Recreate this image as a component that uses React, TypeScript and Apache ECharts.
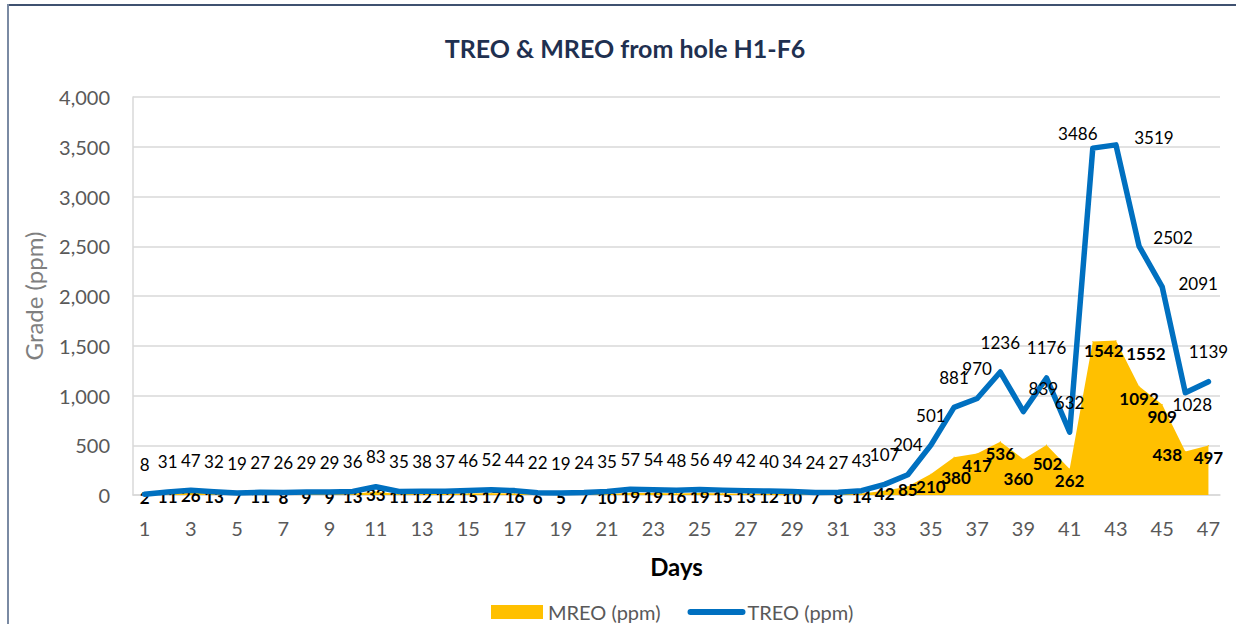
import React, { useEffect, useRef } from "react";
import * as echarts from "echarts";

const days = Array.from({ length: 47 }, (_, i) => String(i + 1));
const treo = [8, 31, 47, 32, 19, 27, 26, 29, 29, 36, 83, 35, 38, 37, 46, 52, 44, 22, 19, 24, 35, 57, 54, 48, 56, 49, 42, 40, 34, 24, 27, 43, 107, 204, 501, 881, 970, 1236, 839, 1176, 632, 3486, 3519, 2502, 2091, 1028, 1139];
const mreo = [2, 11, 26, 13, 7, 11, 8, 9, 9, 13, 33, 11, 12, 12, 15, 17, 16, 6, 5, 7, 10, 19, 19, 16, 19, 15, 13, 12, 10, 7, 8, 14, 42, 85, 210, 380, 417, 536, 360, 502, 262, 1542, 1552, 1092, 909, 438, 497];
const yTicks = [0, 500, 1000, 1500, 2000, 2500, 3000, 3500, 4000];

// label offset overrides (by day index), styling only
const treoOffsets: Record<number, number[]> = {
  38: [20, -23],
  41: [-15, -15],
  42: [38, -7],
  43: [34, -9],
  44: [36, -3],
  45: [7, 12],
};
const mreoOffsets: Record<number, number[]> = {
  35: [2, 20],
  38: [-5, 19],
  39: [1, 18],
  41: [11, 9],
  42: [30, 13],
  45: [-18, 3],
};

const FONT = "Lato, 'Open Sans', sans-serif";

export default function App() {
  const ref = useRef<HTMLDivElement>(null);
  useEffect(() => {
    const chart = echarts.init(ref.current!, null, { renderer: "svg" });
    const treoData = treo.map((v, i) => ({
      value: v,
      label: { offset: treoOffsets[i] || [0, -30] },
    }));
    const mreoData = mreo.map((v, i) => ({
      value: v,
      label: { offset: mreoOffsets[i] || (v < 100 ? [0, 3] : [0, 12]) },
    }));
    chart.setOption({
      animation: false,
      textStyle: { fontFamily: FONT },
      title: {
        text: "TREO & MREO from hole H1-F6",
        left: 620,
        textAlign: "center",
        top: 30,
        textStyle: { fontFamily: FONT, fontSize: 25, fontWeight: "bold", color: "#1f3050" },
      },
      graphic: [
        { type: "rect", shape: { x: 7, y: 4, width: 1229, height: 2 }, style: { fill: "#3f5170" } },
        { type: "rect", shape: { x: 7, y: 4, width: 2, height: 620 }, style: { fill: "#7a8aa3" } },
      ],
      legend: {
        top: 597,
        left: 486,
        itemWidth: 52,
        itemHeight: 14,
        itemGap: 27,
        textStyle: { fontFamily: FONT, fontSize: 20, color: "#595959" },
        data: [
          { name: "MREO (ppm)", icon: "rect" },
          { name: "TREO (ppm)", itemStyle: { opacity: 0 }, lineStyle: { width: 6, cap: "round" } },
        ],
      },
      grid: { left: 133, right: 16, top: 97, bottom: 129, containLabel: false },
      xAxis: {
        type: "category",
        data: days,
        boundaryGap: true,
        name: "Days",
        nameLocation: "middle",
        nameGap: 59,
        nameTextStyle: { fontFamily: FONT, fontSize: 24, fontWeight: "bold", color: "#000" },
        axisLine: { lineStyle: { color: "#d9d9d9", width: 1.5 } },
        axisTick: { show: false },
        axisLabel: { interval: 1, color: "#595959", fontSize: 20, margin: 23, fontFamily: FONT },
      },
      yAxis: {
        type: "value",
        min: yTicks[0],
        max: yTicks[yTicks.length - 1],
        interval: 500,
        name: "Grade (ppm)",
        nameLocation: "middle",
        nameGap: 88,
        nameTextStyle: { fontFamily: FONT, fontSize: 24, color: "#7f7f7f" },
        axisLine: { show: true, lineStyle: { color: "#d9d9d9", width: 1.5 } },
        axisTick: { show: false },
        axisLabel: {
          color: "#595959",
          fontSize: 20,
          margin: 23,
          fontFamily: FONT,
          formatter: (v: number) => v.toLocaleString("en-US"),
        },
        splitLine: { lineStyle: { color: "#d9d9d9", width: 1.5 } },
      },
      series: [
        {
          name: "MREO (ppm)",
          type: "line",
          data: mreoData,
          symbol: "circle",
          symbolSize: 1,
          itemStyle: { color: "#FFC000" },
          lineStyle: { width: 0, color: "#FFC000" },
          areaStyle: { color: "#FFC000", opacity: 1 },
          label: {
            show: true,
            position: "inside",
            color: "#000",
            fontWeight: "bold",
            fontSize: 17,
            fontFamily: FONT,
          },
          z: 2,
        },
        {
          name: "TREO (ppm)",
          type: "line",
          data: treoData,
          symbol: "circle",
          symbolSize: 1,
          itemStyle: { color: "#0070C0" },
          lineStyle: { width: 5.5, color: "#0070C0", cap: "round", join: "round" },
          label: {
            show: true,
            position: "inside",
            color: "#000",
            fontSize: 17,
            fontFamily: FONT,
          },
          z: 3,
        },
      ],
    });
    return () => chart.dispose();
  }, []);
  return (
    <div
      ref={ref}
      style={{ position: "absolute", left: 0, top: 0, width: 1236, height: 624, background: "#fff" }}
    />
  );
}
